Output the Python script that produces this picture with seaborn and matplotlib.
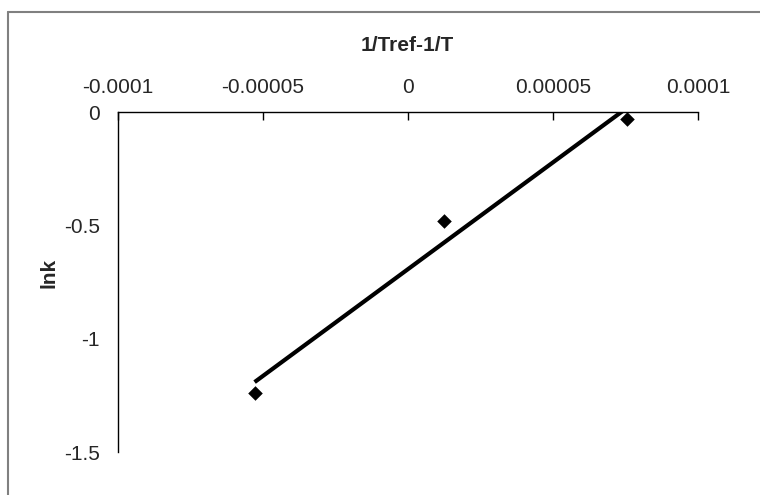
import matplotlib
matplotlib.use("Agg")
import matplotlib.pyplot as plt
from matplotlib.lines import Line2D
import seaborn as sns
import pandas as pd

# data
inv_temp = [-0.0000529, 0.0000124, 0.0000755]   # 1/Tref - 1/T
lnk = [-1.239, -0.480, -0.031]
x_ticks = [-0.0001, -0.00005, 0, 0.00005, 0.0001]
x_tick_labels = ["-0.0001", "-0.00005", "0", "0.00005", "0.0001"]
y_ticks = [0, -0.5, -1, -1.5]
y_tick_labels = ["0", "-0.5", "-1", "-1.5"]

df = pd.DataFrame({"x": inv_temp, "lnk": lnk})

sns.set_style("white")
plt.rcParams["font.family"] = ["Liberation Sans", "DejaVu Sans"]

fig = plt.figure(figsize=(7.6, 4.95), dpi=100)
ax = fig.add_axes([118 / 760, 1 - 452 / 495, (698 - 118) / 760, (452 - 112) / 495])

sns.regplot(data=df, x="x", y="lnk", ax=ax, ci=None, truncate=True, marker="D",
            color="black",
            scatter_kws={"s": 55, "alpha": 1, "linewidths": 0, "zorder": 3},
            line_kws={"lw": 3, "solid_capstyle": "butt"})

ax.set_xlim(-0.0001, 0.0001)
ax.set_ylim(-1.5, 0)
ax.set_xticks(x_ticks)
ax.set_xticklabels(x_tick_labels, fontsize=15)
ax.set_yticks(y_ticks)
ax.set_yticklabels(y_tick_labels, fontsize=15)

ax.xaxis.tick_top()
ax.xaxis.set_label_position("top")
ax.tick_params(axis="x", direction="in", length=6, width=1, color="black", pad=11)
ax.tick_params(axis="y", direction="out", length=6, width=1, color="black", pad=7)

for side in ["right", "bottom"]:
    ax.spines[side].set_visible(False)
for side in ["left", "top"]:
    ax.spines[side].set_color("black")
    ax.spines[side].set_linewidth(1)

ax.set_xlabel("1/Tref-1/T", fontsize=15, fontweight="bold")
ax.xaxis.set_label_coords(0.498, 1.178, transform=ax.transAxes)
ax.set_ylabel("lnk", fontsize=15, fontweight="bold")
ax.yaxis.set_label_coords(-0.103, 0.526, transform=ax.transAxes)

# chart-area border (runs off the right and bottom edges)
border = dict(color="#808080", lw=1.5, transform=fig.transFigure)
fig.add_artist(Line2D([8 / 760, 1], [1 - 11.5 / 495, 1 - 11.5 / 495], **border))
fig.add_artist(Line2D([8 / 760, 8 / 760], [0, 1 - 11.5 / 495], **border))

fig.savefig("out.png", dpi=100)
